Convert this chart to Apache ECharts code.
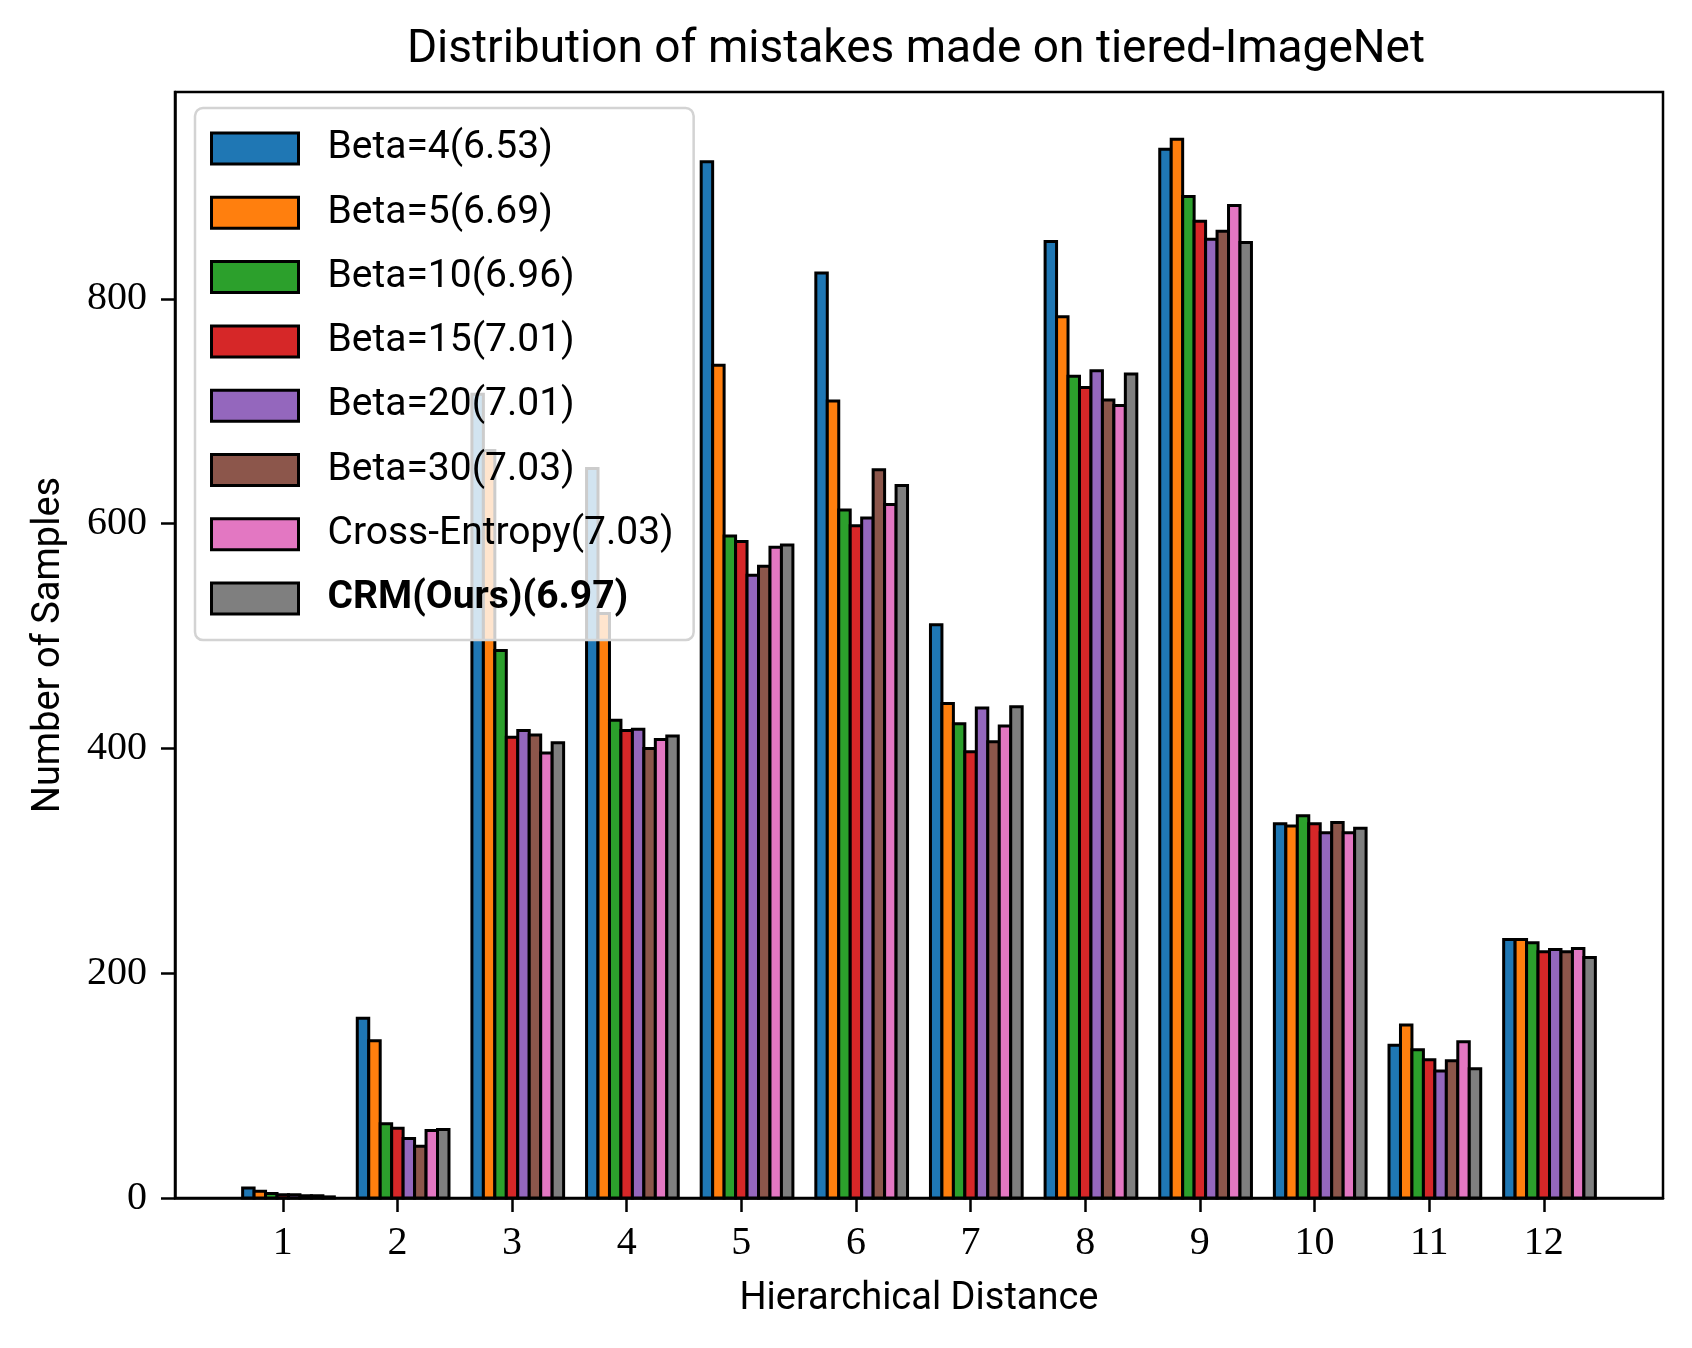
<!DOCTYPE html>
<html>
<head>
<meta charset="utf-8">
<script src="https://cdn.jsdelivr.net/npm/echarts@6/dist/echarts.min.js"></script>
<style>
html,body{margin:0;padding:0;background:#fff;}
#chart{width:1692px;height:1348px;}
</style>
</head>
<body>
<div id="chart"></div>
<script>
const categories = [1, 2, 3, 4, 5, 6, 7, 8, 9, 10, 11, 12];
const beta4  = [9, 160, 715, 649, 922, 823, 510, 851, 933, 333, 136, 230];
const beta5  = [6, 140, 665, 520, 741, 709, 440, 784, 942, 331, 154, 230];
const beta10 = [4, 66, 487, 425, 589, 612, 422, 731, 891, 340, 132, 227];
const beta15 = [3, 62, 410, 416, 584, 598, 397, 721, 869, 333, 123, 219];
const beta20 = [3, 53, 416, 417, 554, 605, 436, 736, 853, 325, 113, 221];
const beta30 = [2, 46, 412, 400, 562, 648, 406, 710, 860, 334, 122, 219];
const crossEntropy = [2, 60, 396, 408, 579, 617, 420, 705, 883, 325, 139, 222];
const crm    = [1, 61, 405, 411, 581, 634, 437, 733, 850, 329, 115, 214];
const yTicks = [0, 200, 400, 600, 800];

const seriesNames = ['Beta=4(6.53)', 'Beta=5(6.69)', 'Beta=10(6.96)', 'Beta=15(7.01)',
  'Beta=20(7.01)', 'Beta=30(7.03)', 'Cross-Entropy(7.03)', 'CRM(Ours)(6.97)'];
const seriesValues = [beta4, beta5, beta10, beta15, beta20, beta30, crossEntropy, crm];
const colors = ['#1f77b4', '#ff7f0e', '#2ca02c', '#d62728', '#9467bd', '#8c564b', '#e377c2', '#7f7f7f'];

const BAR_W = 0.1;
function makeRender(idx, color) {
  return function (params, api) {
    const xc = api.value(0) + idx * BAR_W - 0.3;
    const y = api.value(1);
    const p0 = api.coord([xc - BAR_W / 2, y]);
    const p1 = api.coord([xc + BAR_W / 2, 0]);
    return {
      type: 'rect',
      shape: { x: p0[0], y: p0[1], width: p1[0] - p0[0], height: p1[1] - p0[1] },
      style: { fill: color, stroke: '#000', lineWidth: 3 }
    };
  };
}

const series = seriesNames.map((name, i) => ({
  name: name,
  type: 'custom',
  renderItem: makeRender(i, colors[i]),
  itemStyle: { color: colors[i] },
  encode: { x: 0, y: 1 },
  data: categories.map((c, j) => [c, seriesValues[i][j]])
}));

const sans = 'Roboto';
const serif = 'Liberation Serif';

const chart = echarts.init(document.getElementById('chart'), null, { renderer: 'canvas' });
chart.setOption({
  backgroundColor: '#fff',
  animation: false,
  title: {
    text: 'Distribution of mistakes made on tiered-ImageNet',
    left: 911,
    top: 22,
    textAlign: 'center',
    textStyle: { fontFamily: sans, fontSize: 46, fontWeight: 'normal', color: '#000' }
  },
  grid: {
    left: 175, right: 29, top: 92, bottom: 150,
    show: true, borderColor: '#000', borderWidth: 2.5, backgroundColor: 'transparent'
  },
  legend: {
    orient: 'vertical',
    left: 195,
    top: 108,
    padding: [21, 20, 22, 15],
    itemWidth: 87,
    itemHeight: 31,
    itemGap: 25.3,
    icon: 'rect',
    backgroundColor: 'rgba(255,255,255,0.8)',
    borderColor: '#d3d3d3',
    borderWidth: 2.5,
    borderRadius: 8,
    itemStyle: { borderColor: '#000', borderWidth: 3 },
    data: seriesNames,
    formatter: function (name) {
      return name === 'CRM(Ours)(6.97)' ? '{b|' + name + '}' : '{n|' + name + '}';
    },
    textStyle: {
      fontFamily: sans, fontSize: 39, color: '#000',
      rich: {
        n: { fontFamily: sans, fontSize: 39, lineHeight: 38, color: '#000', padding: [0, 0, 0, 24] },
        b: { fontFamily: sans, fontSize: 39, lineHeight: 38, fontWeight: 'bold', color: '#000', padding: [0, 0, 0, 24] }
      }
    }
  },
  xAxis: {
    type: 'value',
    min: 0.06,
    max: 13.04,
    name: 'Hierarchical Distance',
    nameLocation: 'middle',
    nameGap: 82,
    nameTextStyle: { fontFamily: sans, fontSize: 38, color: '#000' },
    axisLine: { show: true, onZero: false, lineStyle: { color: '#000', width: 2.5 } },
    axisTick: { show: true, length: 14, lineStyle: { color: '#000', width: 2.5 }, customValues: categories },
    axisLabel: { fontFamily: serif, fontSize: 40, color: '#000', margin: 25, customValues: categories },
    splitLine: { show: false }
  },
  yAxis: {
    type: 'value',
    min: 0,
    max: 984,
    name: 'Number of Samples',
    nameLocation: 'middle',
    nameGap: 107,
    nameRotate: 90,
    nameTextStyle: { fontFamily: sans, fontSize: 38, color: '#000' },
    axisLine: { show: true, lineStyle: { color: '#000', width: 2.5 } },
    axisTick: { show: true, length: 14, lineStyle: { color: '#000', width: 2.5 }, customValues: yTicks },
    axisLabel: { fontFamily: serif, fontSize: 40, color: '#000', margin: 28, customValues: yTicks },
    splitLine: { show: false }
  },
  series: series
});
</script>
</body>
</html>
